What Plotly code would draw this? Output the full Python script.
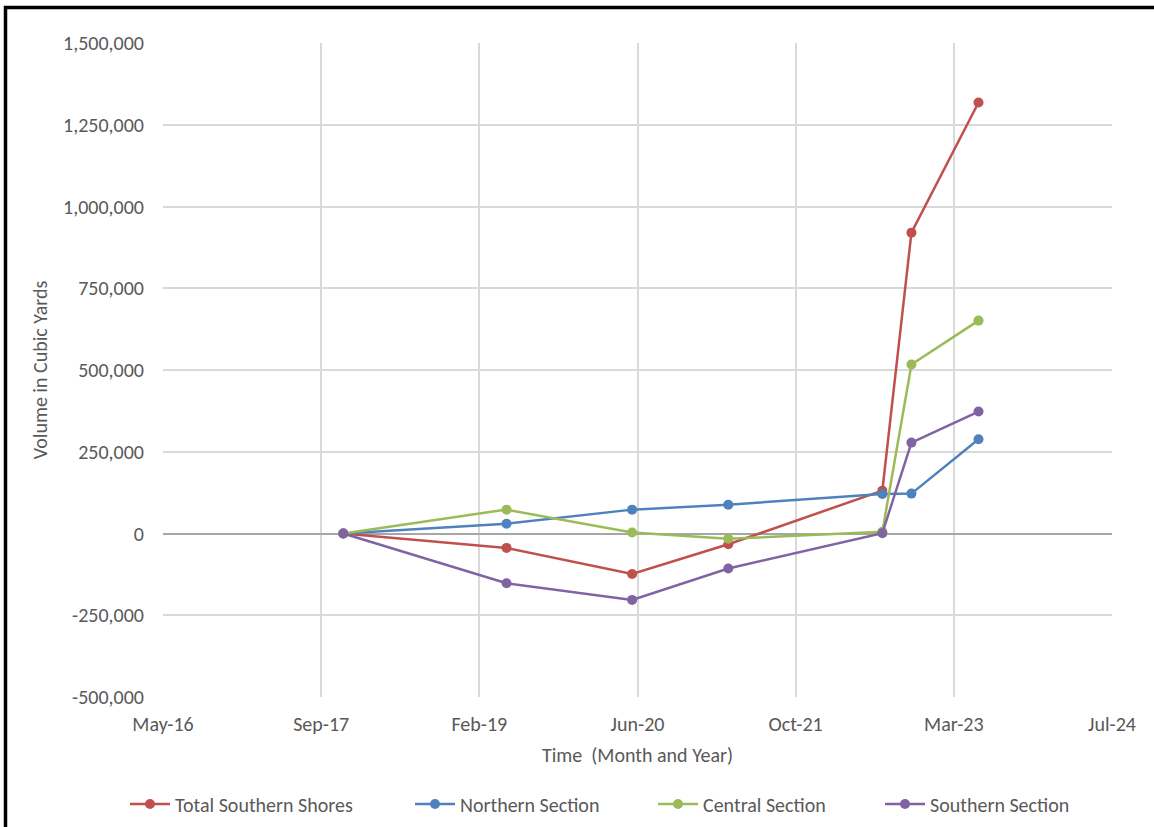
import plotly.graph_objects as go

# Survey dates
survey_dates = ["2017-12-01", "2019-05-01", "2020-06-01", "2021-04-01",
                "2022-08-01", "2022-11-01", "2023-06-01"]

# Cumulative volume change (cubic yards)
total_southern_shores = [0, -44000, -124000, -33000, 131000, 920000, 1318000]
northern_section = [0, 30000, 73000, 88000, 121000, 122000, 288000]
central_section = [0, 73000, 3000, -16000, 5000, 517000, 651000]
southern_section = [0, -152000, -203000, -107000, 1000, 278000, 373000]

# Date axis ticks every 500 days
x_tick_dates = ["2016-05-10", "2017-09-22", "2019-02-04", "2020-06-18",
                "2021-10-31", "2023-03-15", "2024-07-27"]
x_tick_labels = ["May-16", "Sep-17", "Feb-19", "Jun-20", "Oct-21", "Mar-23", "Jul-24"]

y_tick_values = [-500000, -250000, 0, 250000, 500000, 750000, 1000000, 1250000, 1500000]
y_tick_labels = ["-500,000", "-250,000", "0", "250,000", "500,000", "750,000",
                 "1,000,000", "1,250,000", "1,500,000"]

series = [
    ("Total Southern Shores", total_southern_shores, "#C0504D"),
    ("Northern Section", northern_section, "#4F81BD"),
    ("Central Section", central_section, "#9BBB59"),
    ("Southern Section", southern_section, "#8064A2"),
]

FONT = "Carlito, Calibri, Lato, sans-serif"
TEXT = "#595959"

W, H = 1154, 827
L, R, T, B = 163, 42, 43, 130
pw, ph = W - L - R, H - T - B


def px_x(p):
    return (p - L) / pw


def px_y(p):
    return (H - B - p) / ph


# left edge (px) of each legend entry along the bottom row
legend_lefts = [125, 410, 653, 880]
legend_keys = ["legend", "legend2", "legend3", "legend4"]

fig = go.Figure()
for (name, values, color), key in zip(series, legend_keys):
    fig.add_trace(go.Scatter(
        x=survey_dates, y=values, name=name, mode="lines+markers",
        line=dict(color=color, width=2.5),
        marker=dict(color=color, size=10),
        legend=key,
    ))

legend_layout = {}
for key, left in zip(legend_keys, legend_lefts):
    legend_layout[key] = dict(
        orientation="h", x=px_x(left), xanchor="left",
        y=px_y(804), yanchor="middle",
        font=dict(family=FONT, size=20, color=TEXT),
        itemwidth=40, bgcolor="rgba(0,0,0,0)",
    )

fig.update_layout(
    width=W, height=H,
    margin=dict(l=L, r=R, t=T, b=B, autoexpand=False),
    paper_bgcolor="white", plot_bgcolor="white",
    font=dict(family=FONT, size=20, color=TEXT),
    showlegend=True,
    xaxis=dict(
        type="date",
        range=[x_tick_dates[0], x_tick_dates[-1]],
        tickmode="array", tickvals=x_tick_dates, ticktext=x_tick_labels,
        showgrid=True, gridcolor="#D9D9D9", gridwidth=1.5,
        showline=False, zeroline=False, ticks="",
        ticklabelstandoff=13,
        tickfont=dict(family=FONT, size=20, color=TEXT),
        title=dict(text="Time\u00a0 (Month and Year)",
                   font=dict(family=FONT, size=20, color=TEXT), standoff=12),
        automargin=False,
    ),
    yaxis=dict(
        range=[-500000, 1500000],
        tickmode="array", tickvals=y_tick_values, ticktext=y_tick_labels,
        showgrid=True, gridcolor="#D9D9D9", gridwidth=1.5,
        zeroline=True, zerolinecolor="#A6A6A6", zerolinewidth=1.5,
        showline=False, ticks="",
        ticklabelstandoff=18,
        tickfont=dict(family=FONT, size=20, color=TEXT),
        title=dict(text="Volume in Cubic Yards",
                   font=dict(family=FONT, size=20, color=TEXT), standoff=10),
        automargin=False,
    ),
    shapes=[
        # outer frame around the chart area
        dict(type="rect", xref="paper", yref="paper",
             x0=px_x(5.5), x1=px_x(W + 60), y0=px_y(H + 60), y1=px_y(7.5),
             line=dict(color="black", width=3.5), fillcolor="rgba(0,0,0,0)",
             layer="above"),
    ],
    **legend_layout,
)

fig.write_html("out.html")
